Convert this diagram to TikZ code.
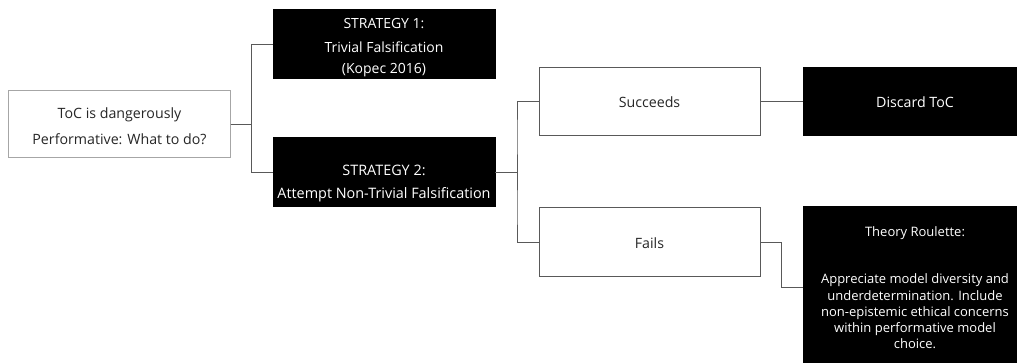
\documentclass[tikz,border=0pt]{standalone}
\usepackage{fontspec}
\setmainfont{Open Sans}
\usetikzlibrary{calc}
\definecolor{linegray}{HTML}{595959}
\definecolor{lightborder}{HTML}{A6A6A6}
\definecolor{darkborder}{HTML}{595959}
\definecolor{darktext}{HTML}{262626}
\begin{document}
\begin{tikzpicture}[x=1pt,y=-1pt,
  box/.style={line width=1pt, inner sep=0pt, outer sep=0pt, anchor=center},
  whitebox/.style={box, fill=white, draw=darkborder},
  blackbox/.style={box, fill=black, draw=black},
  txt/.style={align=center, inner sep=0pt, text=#1},
  txt/.default=darktext,
  link/.style={draw=linegray, line width=1pt},
  elbow/.style={to path={-| ($(\tikztostart)!0.5!(\tikztotarget)$) |- (\tikztotarget)}}
]
\useasboundingbox (0,0) rectangle (1017,363);
\clip (0,0) rectangle (1017,363);
\fill[white] (0,0) rectangle (1017,363);

% boxes
\node[whitebox, draw=lightborder, minimum width=222pt, minimum height=67pt] (root) at (119.5,124.5) {};
\node[blackbox, minimum width=222pt, minimum height=69pt] (s1) at (384,44.5) {};
\node[blackbox, minimum width=222pt, minimum height=69pt] (s2) at (384,172.5) {};
\node[whitebox, minimum width=221pt, minimum height=68pt] (succ) at (649.5,102) {};
\node[whitebox, minimum width=221pt, minimum height=69pt] (fails) at (649.5,242.5) {};
\node[blackbox, minimum width=224pt, minimum height=68pt] (disc) at (915,102) {};
\node[blackbox, minimum width=224pt, minimum height=162pt] (theo) at (915,288) {};

% connectors
\draw[link] (root.east) to[elbow] (s1.west);
\draw[link] (root.east) to[elbow] (s2.west);
\draw[link] (s2.east) to[elbow] (succ.west);
\draw[link] (s2.east) to[elbow] (fails.west);
\draw[link] (succ.east) -- (disc.west);
\draw[link] (fails.east) to[elbow] (theo.west);

% texts
\node[txt, font=\fontsize{14.2}{26}\selectfont] (rootT) at (119.5,126) {ToC is dangerously\\Performative: What to do?};
\node[txt=white, font=\fontsize{14}{21}\selectfont] (s1T) at (384,48) {STRATEGY 1:\\[3pt]Trivial Falsification\\(Kopec 2016)};
\node[txt=white, font=\fontsize{14.4}{23}\selectfont] (s2T) at (384,184) {STRATEGY 2:\\Attempt Non-Trivial Falsification};
\node[txt, font=\fontsize{14.2}{16}\selectfont] (succT) at (649.5,102) {Succeeds};
\node[txt, font=\fontsize{14.2}{16}\selectfont] (failsT) at (649.5,243) {Fails};
\node[txt=white, font=\fontsize{14.2}{16}\selectfont] (discT) at (915,102) {Discard ToC};
\node[txt=white, font=\fontsize{13}{16.3}\selectfont] (theoT) at (915,288) {Theory Roulette:\\[30.7pt]Appreciate model diversity and\\underdetermination. Include\\non-epistemic ethical concerns\\within performative model\\choice.};
\end{tikzpicture}
\end{document}
